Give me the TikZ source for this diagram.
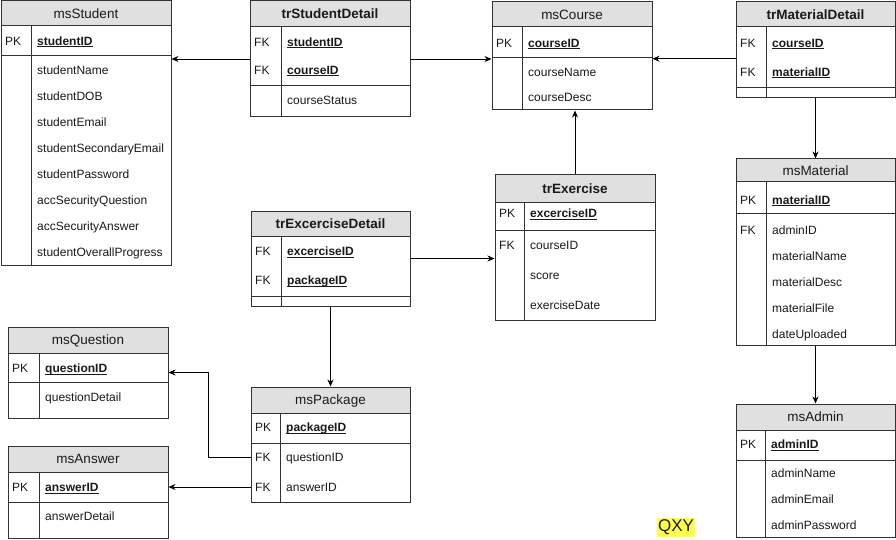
\documentclass[tikz,border=0pt]{standalone}
\usepackage{fontspec}
\setmainfont{Liberation Sans}
\usetikzlibrary{arrows.meta,fit,calc}

\definecolor{hdrgray}{HTML}{E0E0E0}
\definecolor{edge}{HTML}{333333}
\definecolor{ink}{HTML}{1A1A1A}
\definecolor{marker}{HTML}{FFFF44}

% bold, underlined key attribute with a fixed underline offset
\newcommand\keyu[1]{\setbox0\hbox{\bfseries #1}\rlap{\rule[-2pt]{\wd0}{0.8pt}}\box0}

% ER table: name, x1, y1, x2, y2, header bottom, key separator, column divider, title
\newcommand\erTable[9]{%
  \fill[hdrgray] (#2,#3) rectangle (#4,#6);
  \node[tbl, fit={(#2,#3) (#4,#5)}] (#1) {};
  \node[ttl] (#1-t) at ({(#2+#4)/2},{(#3+#6)/2}) {#9};
  \draw[rule] (#2,#6) -- (#4,#6);
  \draw[rule] (#2,#7) -- (#4,#7);
  \draw[rule] (#8,#6) -- (#8,#5);
}

\tikzset{
  tbl/.style={draw=edge, line width=1pt, inner sep=0pt},
  rule/.style={draw=edge, line width=1pt},
  ttl/.style={font=\fontsize{13.5}{16}\selectfont, text=ink, inner sep=0pt,
              text height=9.7pt, text depth=0pt},
  key/.style={anchor=west, font=\fontsize{12}{14}\selectfont, text=ink,
              inner sep=0pt, text height=8.6pt, text depth=0pt},
  fld/.style={key},
  arr/.style={draw=black, line width=0.9pt, -{Stealth[length=7pt,width=6pt]}},
}

\begin{document}
\begin{tikzpicture}[x=1pt,y=-1pt]
\fill[white] (0,0) rectangle (896,540);
\useasboundingbox (0,0) rectangle (896,540);

% msStudent
\erTable{stu}{1}{1}{171}{265}{26}{56}{31}{msStudent}
\node[key] (stu-k1) at (5,41) {PK};
\node[fld] (stu-f1) at (37,41) {\keyu{studentID}};
\node[fld] (stu-f2) at (37,70) {studentName};
\node[fld] (stu-f3) at (37,96) {studentDOB};
\node[fld] (stu-f4) at (37,122) {studentEmail};
\node[fld] (stu-f5) at (37,148) {studentSecondaryEmail};
\node[fld] (stu-f6) at (37,174) {studentPassword};
\node[fld] (stu-f7) at (37,200) {accSecurityQuestion};
\node[fld] (stu-f8) at (37,226) {accSecurityAnswer};
\node[fld] (stu-f9) at (37,252) {studentOverallProgress};

% trStudentDetail
\erTable{tsd}{250}{1}{410}{117}{27}{86}{281}{\bfseries trStudentDetail}
\node[key] (tsd-k1) at (254,42) {FK};
\node[key] (tsd-k2) at (254,70) {FK};
\node[fld] (tsd-f1) at (287,42) {\keyu{studentID}};
\node[fld] (tsd-f2) at (287,70) {\keyu{courseID}};
\node[fld] (tsd-f3) at (287,100) {courseStatus};

% msCourse
\erTable{crs}{492}{2}{652}{110}{27}{58}{522}{msCourse}
\node[key] (crs-k1) at (496,43) {PK};
\node[fld] (crs-f1) at (528,43) {\keyu{courseID}};
\node[fld] (crs-f2) at (528,72) {courseName};
\node[fld] (crs-f3) at (528,97) {courseDesc};

% trMaterialDetail
\erTable{tmd}{736}{2}{895}{98}{27}{88}{766}{\bfseries trMaterialDetail}
\node[key] (tmd-k1) at (740,43) {FK};
\node[key] (tmd-k2) at (740,72) {FK};
\node[fld] (tmd-f1) at (772,43) {\keyu{courseID}};
\node[fld] (tmd-f2) at (772,72) {\keyu{materialID}};

% msMaterial
\erTable{mat}{736}{159}{895}{345}{182}{213}{766}{msMaterial}
\node[key] (mat-k1) at (740,200) {PK};
\node[key] (mat-k2) at (740,230) {FK};
\node[fld] (mat-f1) at (772,200) {\keyu{materialID}};
\node[fld] (mat-f2) at (772,230) {adminID};
\node[fld] (mat-f3) at (772,256) {materialName};
\node[fld] (mat-f4) at (772,282) {materialDesc};
\node[fld] (mat-f5) at (772,308) {materialFile};
\node[fld] (mat-f6) at (772,334) {dateUploaded};

% msAdmin
\erTable{adm}{736}{404}{895}{537}{430}{460}{765}{msAdmin}
\node[key] (adm-k1) at (740,444) {PK};
\node[fld] (adm-f1) at (771,444) {\keyu{adminID}};
\node[fld] (adm-f2) at (771,473) {adminName};
\node[fld] (adm-f3) at (771,499) {adminEmail};
\node[fld] (adm-f4) at (771,525) {adminPassword};

% trExercise
\erTable{tex}{495}{175}{655}{320}{202}{230}{524}{\bfseries trExercise}
\node[key] (tex-k1) at (499,213) {PK};
\node[key] (tex-k2) at (499,245) {FK};
\node[fld] (tex-f1) at (530,213) {\keyu{excerciseID}};
\node[fld] (tex-f2) at (530,245) {courseID};
\node[fld] (tex-f3) at (530,275) {score};
\node[fld] (tex-f4) at (530,305) {exerciseDate};

% trExcerciseDetail
\erTable{ted}{251}{211}{410}{306}{236}{296}{281}{\bfseries trExcerciseDetail}
\node[key] (ted-k1) at (255,251) {FK};
\node[key] (ted-k2) at (255,280) {FK};
\node[fld] (ted-f1) at (287,251) {\keyu{excerciseID}};
\node[fld] (ted-f2) at (287,280) {\keyu{packageID}};

% msQuestion
\erTable{que}{8}{327}{168}{418}{353}{382}{39}{msQuestion}
\node[key] (que-k1) at (12,368) {PK};
\node[fld] (que-f1) at (45,368) {\keyu{questionID}};
\node[fld] (que-f2) at (45,397) {questionDetail};

% msAnswer
\erTable{ans}{8}{446}{168}{538}{472}{502}{39}{msAnswer}
\node[key] (ans-k1) at (12,487) {PK};
\node[fld] (ans-f1) at (45,487) {\keyu{answerID}};
\node[fld] (ans-f2) at (45,516) {answerDetail};

% msPackage
\erTable{pkg}{251}{387}{410}{502}{413}{443}{280}{msPackage}
\node[key] (pkg-k1) at (255,427) {PK};
\node[key] (pkg-k2) at (255,457) {FK};
\node[key] (pkg-k3) at (255,487) {FK};
\node[fld] (pkg-f1) at (286,427) {\keyu{packageID}};
\node[fld] (pkg-f2) at (286,457) {questionID};
\node[fld] (pkg-f3) at (286,487) {answerID};

% relationships
\coordinate (tmd-out) at ($(tmd.north west)!0.59!(tmd.south west)$);
\draw[arr] (tsd.west) -- (tsd.west -| stu.east);
\draw[arr] (tsd.east) -- (tsd.east -| crs.west);
\draw[arr] (tmd-out) -- (tmd-out -| crs.east);
\draw[arr] (tmd.south) -- (mat.north);
\draw[arr] (mat.south) -- (adm.north);
\draw[arr] (tex.north) -- (tex.north |- crs.south);
\draw[arr] (ted.east) -- (ted.east -| tex.west);
\draw[arr] (ted.south) -- (pkg.north);
\draw[arr] (pkg.west |- pkg-k2) -- ++(-42,0) |- (que.east);
\draw[arr] (pkg.west |- pkg-k3) -- (ans.east |- pkg-k3);

% highlighted tag
\node[fill=marker, minimum width=38pt, minimum height=19pt, inner sep=0pt,
      font=\fontsize{17}{20}\selectfont, text=ink] (qxy) at (676,527.5) {QXY};
\end{tikzpicture}
\end{document}
